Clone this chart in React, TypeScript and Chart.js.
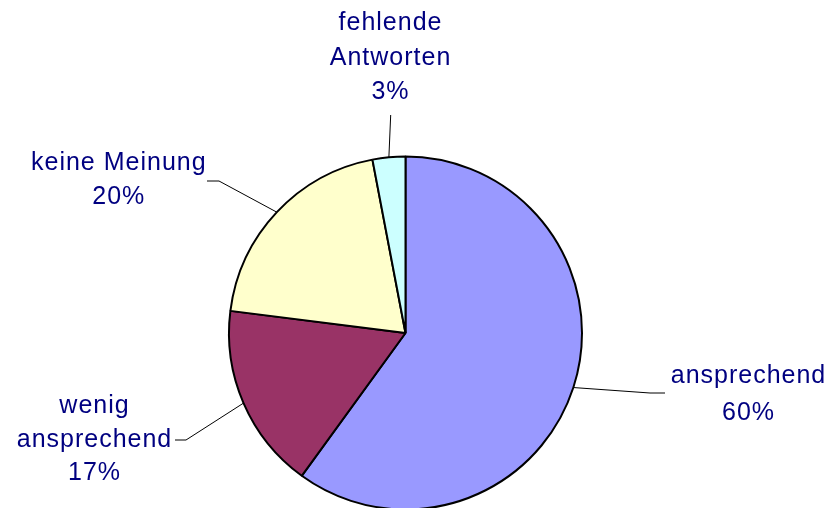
import React, { useEffect, useRef } from "react";
import { Chart, registerables } from "chart.js";

Chart.register(...registerables);

const categories = ["ansprechend", "wenig ansprechend", "keine Meinung", "fehlende Antworten"];
const labelLines = [["ansprechend"], ["wenig", "ansprechend"], ["keine Meinung"], ["fehlende", "Antworten"]];
const values = [60, 17, 20, 3];
const colors = ["#9999FF", "#993366", "#FFFFCC", "#CCFFFF"];

// label layout: text center x, first baseline y, line gap, leader elbow points
const labelLayout = [
  { cx: 748, y0: 383.3, gap: 36.7, pts: [[650, 393], [665, 393]] },
  { cx: 94, y0: 413.3, gap: 33.4, pts: [[186, 440], [175, 440]] },
  { cx: 118.3, y0: 170, gap: 34.3, pts: [[219, 181], [207, 181]] },
  { cx: 390, y0: 30, gap: 34.7, pts: [[390.7, 115]] },
];

const labelPlugin = {
  id: "pieLabels",
  afterDraw(chart: any) {
    const ctx = chart.ctx;
    const meta = chart.getDatasetMeta(0);
    const data = chart.data.datasets[0].data as number[];
    const total = data.reduce((a, b) => a + b, 0);
    ctx.save();
    meta.data.forEach((arc: any, i: number) => {
      const { x, y, startAngle, endAngle, outerRadius } = arc.getProps(
        ["x", "y", "startAngle", "endAngle", "outerRadius"], true);
      const mid = (startAngle + endAngle) / 2;
      const sx = x + Math.cos(mid) * outerRadius;
      const sy = y + Math.sin(mid) * outerRadius;
      const L = labelLayout[i];
      ctx.strokeStyle = "#000000";
      ctx.lineWidth = 1;
      ctx.beginPath();
      ctx.moveTo(sx, sy);
      L.pts.forEach((p) => ctx.lineTo(p[0], p[1]));
      ctx.stroke();
      const lines = [...labelLines[i], Math.round((data[i] / total) * 100) + "%"];
      ctx.fillStyle = "#000080";
      ctx.font = "25px 'Liberation Sans', Arial, sans-serif";
      try { (ctx as any).letterSpacing = "1px"; } catch (e) {}
      ctx.textAlign = "center";
      ctx.textBaseline = "alphabetic";
      lines.forEach((t, k) => ctx.fillText(t, L.cx + 0.5, L.y0 + k * L.gap));
    });
    ctx.restore();
  },
};

export default function App() {
  const ref = useRef<HTMLCanvasElement>(null);
  useEffect(() => {
    if (!ref.current) return;
    const chart = new Chart(ref.current, {
      type: "pie",
      data: {
        labels: categories,
        datasets: [{
          data: values,
          backgroundColor: colors,
          borderColor: "#000000",
          borderWidth: 2,
          hoverOffset: 0,
        }],
      },
      options: {
        responsive: false,
        animation: false,
        events: [],
        layout: { padding: { left: 228, right: 248, top: 155.5, bottom: 19.5 } },
        plugins: { legend: { display: false }, tooltip: { enabled: false } },
      },
      plugins: [labelPlugin],
    });
    return () => chart.destroy();
  }, []);
  return (
    <div style={{ position: "fixed", left: 0, top: 0, width: 831, height: 530, background: "#fff" }}>
      <canvas ref={ref} width={831} height={530} style={{ width: 831, height: 530, display: "block" }} />
    </div>
  );
}
